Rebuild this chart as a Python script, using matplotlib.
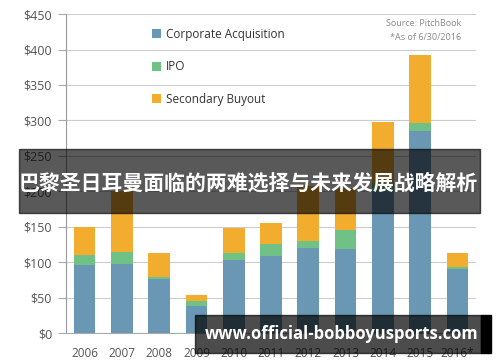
import matplotlib
matplotlib.use('Agg')
import matplotlib.pyplot as plt
from matplotlib.patches import Rectangle
import numpy as np

# 数据 (单位: 十亿美元)
years = ['2006', '2007', '2008', '2009', '2010', '2011', '2012', '2013', '2014', '2015', '2016*']
corporate = [96, 98, 76, 38, 103, 108, 120, 119, 200, 285, 90]
ipo = [14, 16, 3, 7, 10, 18, 10, 26, 12, 11, 3]
secondary = [39, 86, 34, 8, 35, 29, 78, 60, 86, 97, 20]

yticks = [0, 50, 100, 150, 200, 250, 300, 350, 400, 450]

c_blue = '#6a97b3'
c_green = '#6fc186'
c_orange = '#f2ad2f'

plt.rcParams['font.family'] = ['Open Sans', 'DejaVu Sans']

fig = plt.figure(figsize=(5, 3.62), dpi=100)
ax = fig.add_axes([0.132, 0.080, 0.820, 0.881])

x = np.arange(len(years))
w = 0.58
corporate = np.array(corporate)
ipo = np.array(ipo)
secondary = np.array(secondary)

ax.bar(x, corporate, w, color=c_blue, label='Corporate Acquisition', zorder=3)
ax.bar(x, ipo, w, bottom=corporate, color=c_green, label='IPO', zorder=3)
ax.bar(x, secondary, w, bottom=corporate + ipo, color=c_orange, label='Secondary Buyout', zorder=3)

ax.set_xlim(-0.5, 10.5)
ax.set_ylim(0, 450)
ax.set_yticks(yticks)
ax.set_yticklabels(['$%d' % v for v in yticks])
ax.set_xticks(x)
ax.set_xticklabels(years)
ax.tick_params(axis='y', length=6, color='#aaaaaa', labelsize=9, labelcolor='#555555', pad=4)
ax.tick_params(axis='x', length=0, labelsize=8.5, labelcolor='#555555', pad=10)
ax.grid(axis='y', color='#cccccc', linewidth=0.8, zorder=0)

for s in ['top', 'right']:
    ax.spines[s].set_visible(False)
ax.spines['left'].set_color('#999999')
ax.spines['bottom'].set_color('#aaaaaa')

leg = ax.legend(loc='upper left', bbox_to_anchor=(0.185, 0.99), frameon=False,
                fontsize=8.5, handlelength=0.75, handleheight=0.75, handletextpad=0.4,
                labelspacing=1.65, labelcolor='#333333')

ax.text(0.963, 0.97, 'Source: PitchBook', transform=ax.transAxes, ha='right', va='center',
        fontsize=6.5, color='#888888')
ax.text(0.963, 0.926, '*As of 6/30/2016', transform=ax.transAxes, ha='right', va='center',
        fontsize=6.5, color='#888888')

# 标题横幅
fig.patches.append(Rectangle((19 / 500, 1 - 213 / 362), (480 - 19) / 500, 64 / 362,
                             transform=fig.transFigure, color='black', alpha=0.65, zorder=10))
fig.text(248 / 500, 1 - 183 / 362, '巴黎圣日耳曼面临的两难选择与未来发展战略解析',
         ha='center', va='center', fontsize=15, fontweight='bold', color='white',
         family=['Noto Sans CJK SC', 'DejaVu Sans'], zorder=11)

# 水印
fig.patches.append(Rectangle((195 / 500, 1 - 353 / 362), (481 - 195) / 500, 38 / 362,
                             transform=fig.transFigure, color='black', alpha=0.7, zorder=10))
fig.patches.append(Rectangle((481 / 500, 1 - 353 / 362), 10 / 500, 38 / 362,
                             transform=fig.transFigure, color='black', zorder=10))
fig.text(342 / 500, 1 - 334 / 362, 'www.official-bobboyusports.com',
         ha='center', va='center', fontsize=12, fontweight='bold', color='white',
         family=['Open Sans', 'DejaVu Sans'], zorder=11)

fig.savefig('out.png', dpi=100)
